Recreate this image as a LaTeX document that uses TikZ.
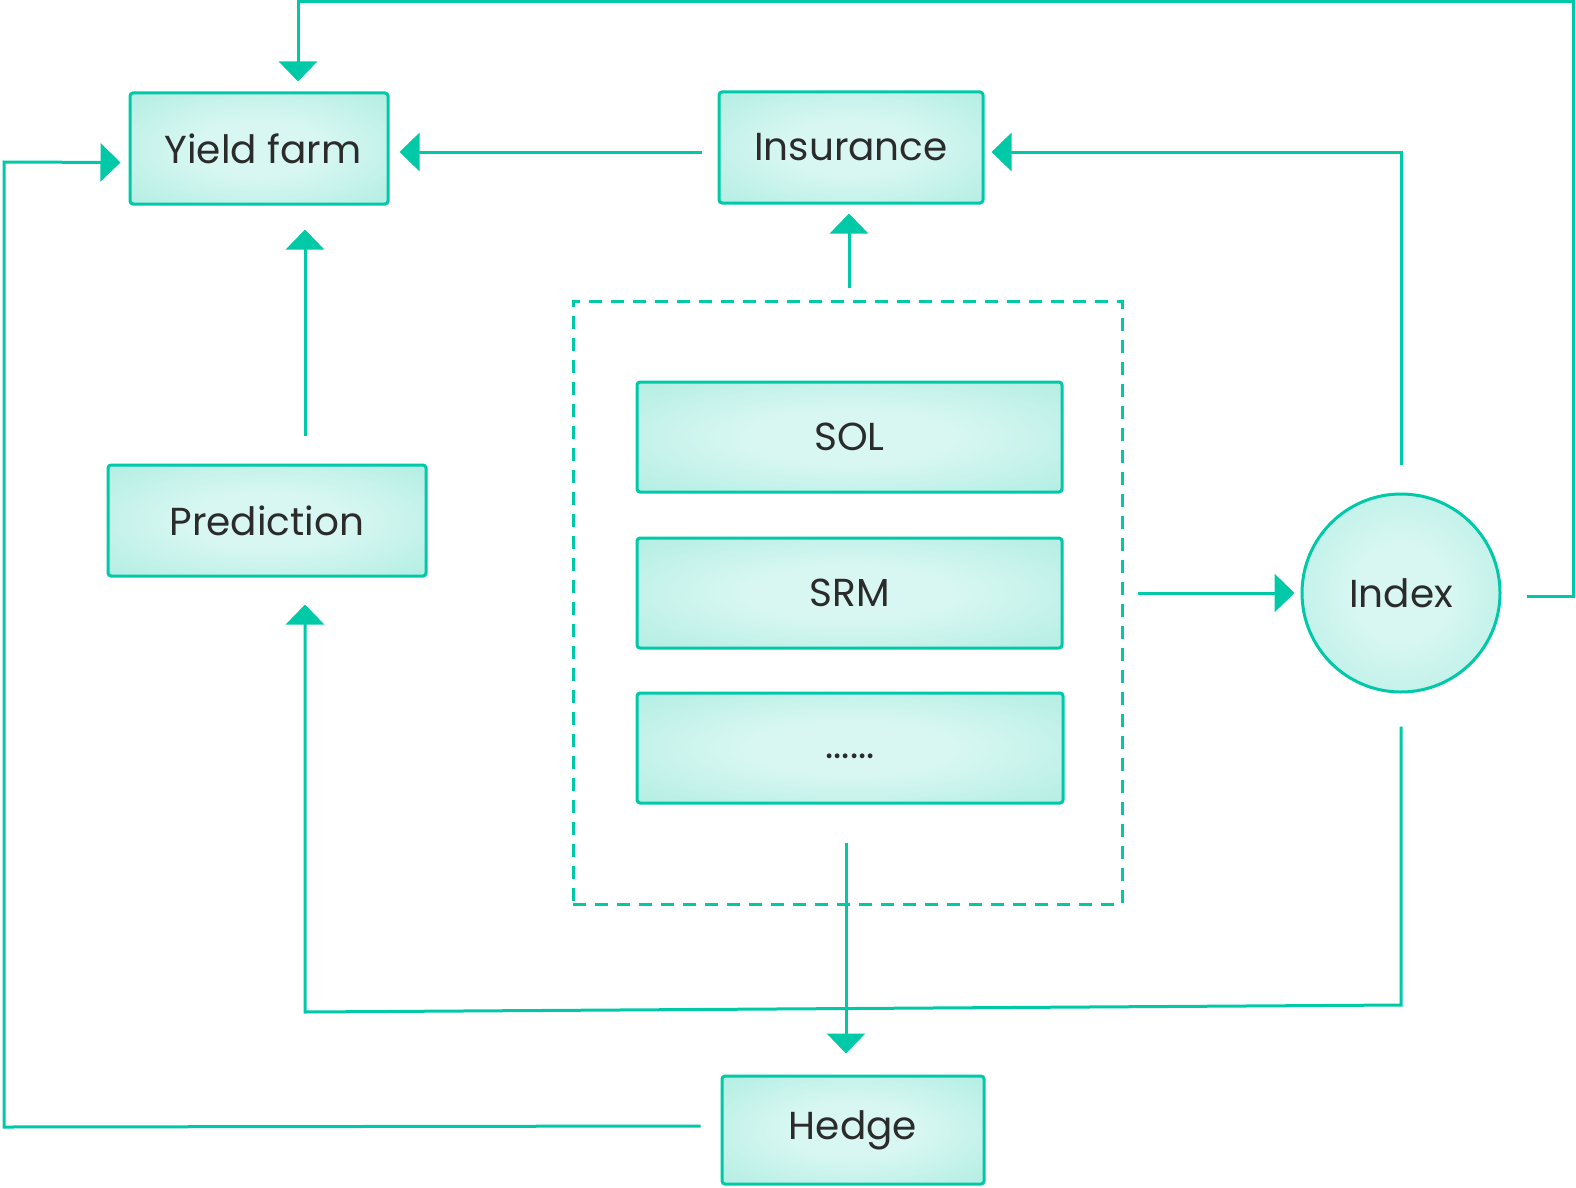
\documentclass[tikz,border=0pt]{standalone}
\usepackage{fontspec}
\setmainfont{Poppins}
\usetikzlibrary{arrows.meta}
\definecolor{tealc}{HTML}{00C9A7}
\definecolor{cin}{HTML}{D8F7F2}
\definecolor{cout}{HTML}{AFEDE2}
\definecolor{txt}{HTML}{2B2B2B}
\pgfdeclareradialshading{boxshade}{\pgfpoint{0bp}{0bp}}{color(0bp)=(cin); color(12bp)=(cin); color(38bp)=(cout); color(50bp)=(cout)}
\tikzset{
  box/.style={draw=tealc, line width=3pt, rounded corners=3pt, shading=boxshade, inner sep=0pt, text=txt, font=\fontsize{39}{44}\selectfont},
  circ/.style={circle, draw=tealc, line width=3pt, shading=boxshade, inner sep=0pt, minimum size=198pt, text=txt, font=\fontsize{39}{44}\selectfont},
  conn/.style={draw=tealc, line width=3pt},
  arr/.style={conn, -{Triangle[width=38pt,length=20pt]}},
  grpbox/.style={draw=tealc, line width=3pt, dash pattern=on 13pt off 9pt, inner sep=0pt}
}
\begin{document}
\begin{tikzpicture}[x=1pt,y=-1pt]
\useasboundingbox (0,0) rectangle (1576,1188);
% group
\node[grpbox, minimum width=549pt, minimum height=603pt] (grp) at (847.5,602.5) {};
% nodes
\node[box, minimum width=258pt, minimum height=111pt] (yf) at (259,148.5) {\hspace*{8pt}Yield farm};
\node[box, minimum width=264pt, minimum height=111pt] (ins) at (851,147.5) {Insurance};
\node[box, minimum width=318pt, minimum height=111pt] (pred) at (267,520.5) {Prediction};
\node[box, minimum width=425pt, minimum height=110pt] (sol) at (849.5,437) {SOL};
\node[box, minimum width=425pt, minimum height=110pt] (srm) at (849.5,593) {SRM};
\node[box, minimum width=426pt, minimum height=110pt] (dots) at (850,748) {\vphantom{x}......};
\node[box, minimum width=262pt, minimum height=108pt] (hedge) at (853,1130) {Hedge};
\node[circ] (idx) at (1401,593) {Index};
% connectors
\draw[arr] ([xshift=-16pt,yshift=-4.5pt]ins.west) -- ([xshift=10pt,yshift=-3.5pt]yf.east);
\draw[arr] ([xshift=-2pt,yshift=12pt]grp.north -| ins.south) -- ([xshift=-2pt,yshift=-9pt]ins.south);
\draw[arr] ([xshift=38pt,yshift=28pt]pred.north) -- ([xshift=46pt,yshift=-24pt]yf.south);
\draw[arr] ([xshift=14pt]grp.east |- idx.center) -- ([xshift=-6pt]idx.west);
\draw[arr] ([yshift=28pt]idx.north) -- (1401,152) -- ([xshift=7pt,yshift=-4.5pt]ins.east);
\draw[arr] ([xshift=25pt,yshift=-3pt]idx.east) -- (1573,596) -- (1573,2) -- (298,2) -- ([xshift=39pt,yshift=10pt]yf.north);
\draw[arr] ([yshift=-33pt]idx.south) -- (1401,1005) -- (305,1012) -- ([xshift=38pt,yshift=-27pt]pred.south);
\draw[arr] ([xshift=-4pt,yshift=-38pt]dots.south) -- ([xshift=-7pt,yshift=21pt]hedge.north);
\draw[arr] ([xshift=-20pt,yshift=4pt]hedge.west) -- (4,1127) -- (4,162) -- ([xshift=-8pt,yshift=-14pt]yf.west);
\end{tikzpicture}
\end{document}
